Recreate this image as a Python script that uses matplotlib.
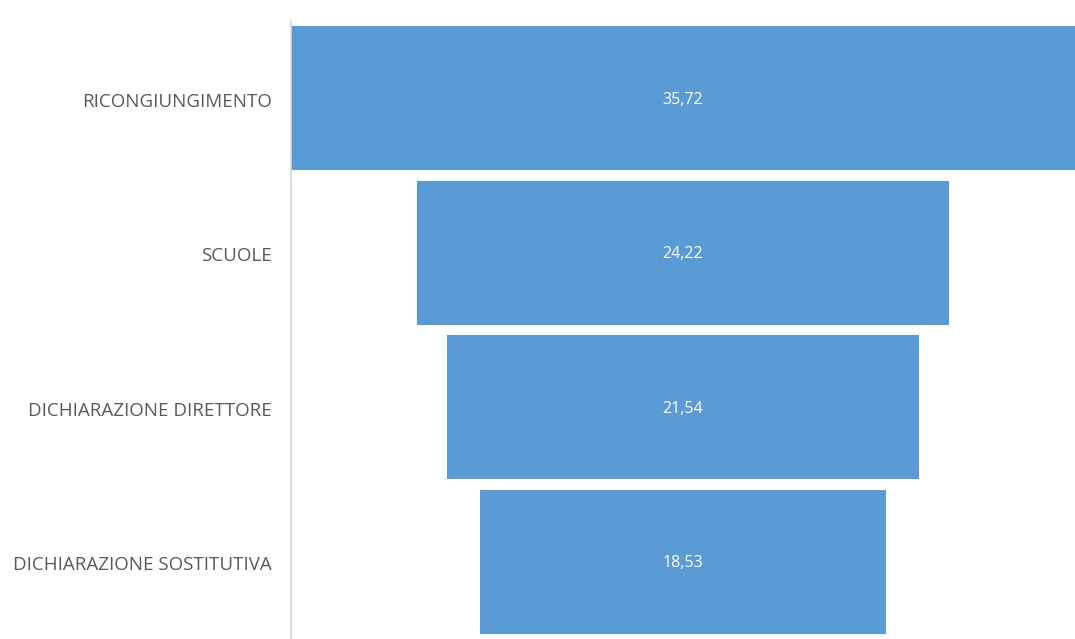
import matplotlib.pyplot as plt
import numpy as np

categories = ['RICONGIUNGIMENTO', 'SCUOLE', 'DICHIARAZIONE DIRETTORE', 'DICHIARAZIONE SOSTITUTIVA']
values = [35.72, 24.22, 21.54, 18.53]
value_labels = ['35,72', '24,22', '21,54', '18,53']

W, H = 1075, 639
fig = plt.figure(figsize=(W / 100, H / 100), dpi=100)
ax = fig.add_axes([291 / W, 0, 1 - 291 / W, 618 / H])

vals = np.array(values)
vmax = vals.max()
y = np.arange(len(categories))
ax.barh(y, vals, left=(vmax - vals) / 2, height=0.93, color='#5b9bd5')

for yi, v, lab in zip(y, vals, value_labels):
    ax.text(vmax / 2, yi + 0.01, lab, ha='center', va='center', color='white',
            fontsize=11.5, family='Open Sans')

ax.set_xlim(0, vmax)
ax.set_ylim(len(categories) - 0.5, -0.5)
ax.set_yticks(y + 0.01)
ax.set_yticklabels(categories, fontsize=13.5, color='#595959', family='Open Sans')
ax.tick_params(axis='y', length=0, pad=14)
ax.set_xticks([])
for s in ['top', 'right', 'bottom']:
    ax.spines[s].set_visible(False)
ax.spines['left'].set_color('#d9d9d9')
ax.spines['left'].set_linewidth(1.2)

fig.savefig('out.png', dpi=100)
